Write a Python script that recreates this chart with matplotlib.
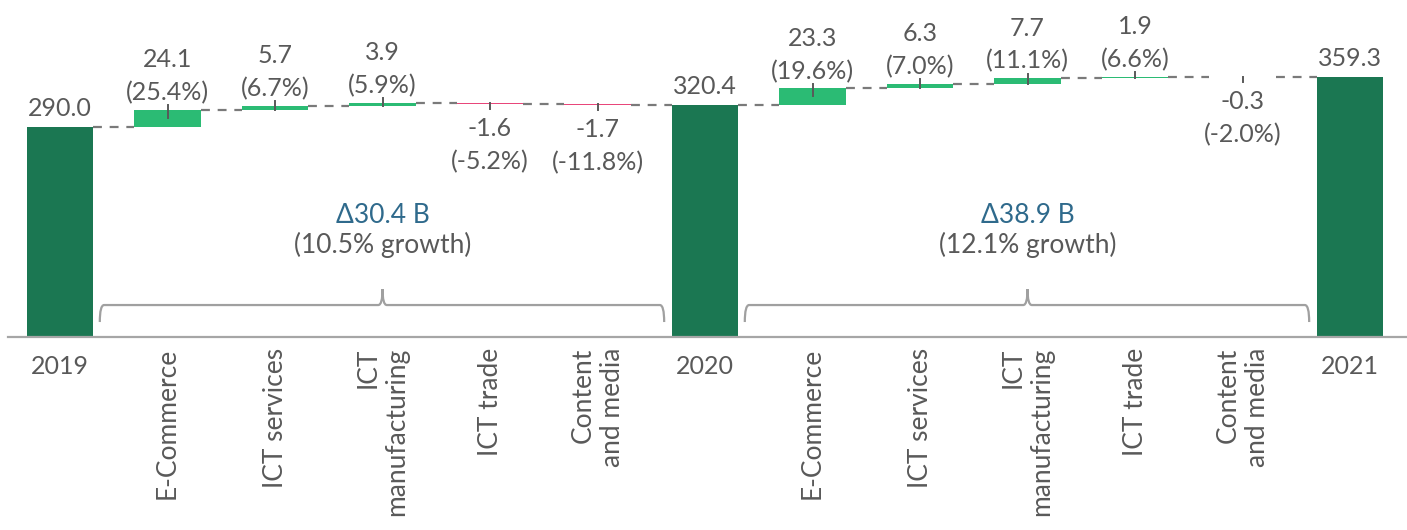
import matplotlib
matplotlib.use("Agg")
import matplotlib.pyplot as plt
from matplotlib.path import Path
from matplotlib.patches import PathPatch

plt.rcParams['font.family'] = ['Lato', 'DejaVu Sans']

categories = ['2019', 'E-Commerce', 'ICT services', 'ICT\nmanufacturing', 'ICT trade',
              'Content\nand media', '2020', 'E-Commerce', 'ICT services',
              'ICT\nmanufacturing', 'ICT trade', 'Content\nand media', '2021']
is_total = [True, False, False, False, False, False, True, False, False, False, False, False, True]
values = [290.0, 24.1, 5.7, 3.9, -1.6, -1.7, 320.4, 23.3, 6.3, 7.7, 1.9, -0.3, 359.3]
pct_labels = [None, '25.4%', '6.7%', '5.9%', '-5.2%', '-11.8%', None,
              '19.6%', '7.0%', '11.1%', '6.6%', '-2.0%', None]
period_start = [0, 6]
period_end = [6, 12]
period_delta = ['Δ30.4 B', 'Δ38.9 B']
period_growth = ['(10.5% growth)', '(12.1% growth)']

C_TOTAL = '#1b7752'
C_UP = '#2bbb74'
C_DOWN = '#e8467a'
C_TEXT = '#595959'
C_BLUE = '#2f6a8c'
C_LINE = '#7a7a7a'

W, H = 1407, 530
fig = plt.figure(figsize=(W / 100, H / 100), dpi=100)
ax_left_px, ax_bottom_px = 8, 193
ax = fig.add_axes([ax_left_px / W, ax_bottom_px / H, 1 - ax_left_px / W, 1 - ax_bottom_px / H])

ymax = 466
ax.set_ylim(0, ymax)
ax.set_xlim(-0.484, 12.53)
px_per_unit = (H - ax_bottom_px) / ymax

bw = 0.62
running = 0.0
ends = []
starts = []
for i, v in enumerate(values):
    if is_total[i]:
        start, end = 0.0, v
        color = C_TOTAL
        running = v
    else:
        start, end = running, running + v
        color = C_UP if v >= 0 else C_DOWN
        running = end
    starts.append(start)
    ends.append(end)
    lo, hi = min(start, end), max(start, end)
    ax.bar(i, hi - lo, bottom=lo, width=bw, color=color, zorder=2)

# connectors
for i in range(len(values) - 1):
    ax.plot([i + bw / 2, i + 1 - bw / 2], [ends[i], ends[i]], color=C_LINE,
            lw=1.6, ls=(0, (4, 3.5)), zorder=1)

# small ticks on delta bars
for i, v in enumerate(values):
    if is_total[i]:
        continue
    out = 4.5 / px_per_unit
    inn = min(8 / px_per_unit, abs(v))
    if v >= 0:
        ax.plot([i, i], [ends[i] - inn, ends[i] + out], color=C_TEXT, lw=1.4, zorder=3)
    else:
        ax.plot([i, i], [ends[i] - out, ends[i] + inn], color=C_TEXT, lw=1.4, zorder=3)

# labels
fs = 18
fs_cat = 19
for i, v in enumerate(values):
    if is_total[i]:
        ax.annotate(f'{v:.1f}', (i, ends[i]), xytext=(0, 5), textcoords='offset points',
                    ha='center', va='bottom', fontsize=fs, color=C_TEXT)
    elif v >= 0:
        ax.annotate(f'{v:.1f}\n({pct_labels[i]})', (i, max(starts[i], ends[i])), xytext=(0, 4),
                    textcoords='offset points', ha='center', va='bottom', fontsize=fs,
                    color=C_TEXT, linespacing=1.5)
    else:
        ax.annotate(f'{v:.1f}\n({pct_labels[i]})', (i, min(starts[i], ends[i])), xytext=(0, -9),
                    textcoords='offset points', ha='center', va='top', fontsize=fs,
                    color=C_TEXT, linespacing=1.55)

# brackets and growth text
y_br = 44.2
y_curl = 20.7
y_peak = 66.3
for s, e, d, g in zip(period_start, period_end, period_delta, period_growth):
    x0, x1 = s + 0.37, e - 0.38
    xm = (s + e) / 2
    r = 0.04
    verts = [(x0, y_curl), (x0, y_br), (x0 + r, y_br), (xm - r, y_br), (xm, y_br), (xm, y_peak),
             (xm, y_br), (xm + r, y_br), (x1 - r, y_br), (x1, y_br), (x1, y_curl)]
    codes = [Path.MOVETO, Path.CURVE3, Path.CURVE3, Path.LINETO, Path.CURVE3, Path.CURVE3,
             Path.CURVE3, Path.CURVE3, Path.LINETO, Path.CURVE3, Path.CURVE3]
    ax.add_patch(PathPatch(Path(verts, codes), fill=False, ec='#a0a0a0', lw=1.6, zorder=1))
    ax.text(xm, 168.6, d, ha='center', va='center', fontsize=fs_cat, color=C_BLUE)
    ax.text(xm, 127, g, ha='center', va='center', fontsize=fs_cat, color=C_TEXT)

# axes styling
for sp in ['top', 'right', 'left']:
    ax.spines[sp].set_visible(False)
ax.spines['bottom'].set_color('#a6a6a6')
ax.spines['bottom'].set_linewidth(1.6)
ax.set_yticks([])
ax.set_xticks([])

# category labels
for i, lab in enumerate(categories):
    if is_total[i]:
        ax.annotate(lab, (i, 0), xycoords=('data', 'axes fraction'), xytext=(0, -21.5),
                    textcoords='offset points', ha='center', va='center',
                    fontsize=fs, color=C_TEXT, annotation_clip=False)
    else:
        ax.annotate(lab, (i, 0), xycoords=('data', 'axes fraction'), xytext=(0, -8),
                    textcoords='offset points', ha='center', va='top', rotation=90,
                    multialignment='right', fontsize=fs_cat, color=C_TEXT,
                    annotation_clip=False)

fig.savefig('out.png', dpi=100)
